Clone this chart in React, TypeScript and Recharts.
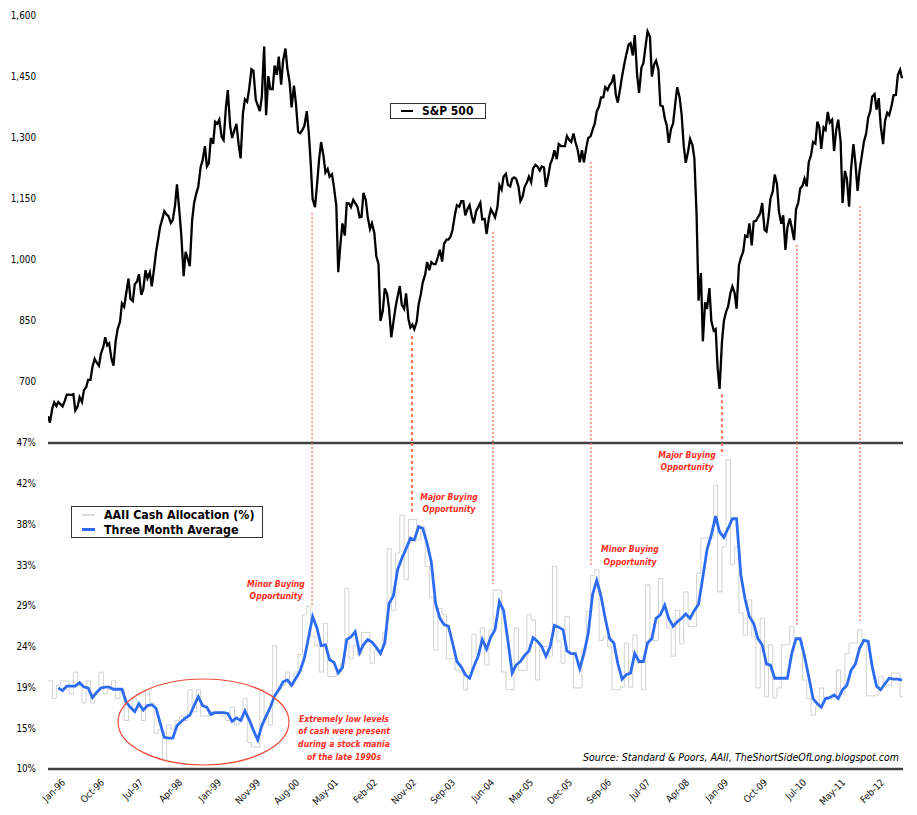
import React from "react";
import { ComposedChart, Line, XAxis, YAxis, ReferenceLine, Legend } from "recharts";

const FONT = "'DejaVu Sans Condensed', 'DejaVu Sans', sans-serif";

// S&P 500, two readings a month (1st and 15th), Jan-96 to Oct-12
const spx1996 = [616, 600, 636, 650, 641, 651, 645, 640, 654, 669, 669, 668, 670, 630, 640, 663, 651, 680, 687, 705, 705, 737, 757, 748];
const spx1997 = [740, 770, 786, 810, 790, 795, 757, 740, 801, 830, 848, 893, 885, 917, 954, 905, 899, 940, 947, 965, 914, 928, 975, 955];
const spx1998 = [970, 935, 980, 1020, 1049, 1080, 1101, 1120, 1112, 1108, 1091, 1098, 1134, 1186, 1121, 1062, 960, 1020, 1002, 985, 1098, 1140, 1164, 1180];
const spx1999 = [1229, 1245, 1280, 1230, 1238, 1300, 1286, 1340, 1335, 1345, 1302, 1295, 1373, 1418, 1329, 1300, 1320, 1335, 1283, 1250, 1362, 1395, 1389, 1420];
const spx2000 = [1469, 1465, 1394, 1380, 1366, 1400, 1525, 1356, 1452, 1420, 1420, 1478, 1455, 1500, 1431, 1490, 1520, 1470, 1436, 1375, 1429, 1385, 1315, 1312];
const spx2001 = [1320, 1330, 1366, 1315, 1240, 1150, 1130, 1183, 1249, 1290, 1256, 1215, 1224, 1205, 1211, 1180, 1134, 970, 1040, 1090, 1060, 1140, 1139, 1130];
const spx2002 = [1148, 1140, 1130, 1105, 1106, 1165, 1147, 1105, 1076, 1090, 1067, 1010, 990, 850, 875, 930, 916, 880, 810, 845, 885, 910, 936, 890];
const spx2003 = [880, 918, 855, 834, 841, 830, 848, 890, 916, 945, 964, 995, 975, 995, 990, 990, 1008, 1025, 996, 1040, 1050, 1050, 1058, 1075];
const spx2004 = [1112, 1135, 1131, 1145, 1145, 1110, 1126, 1135, 1107, 1090, 1120, 1130, 1141, 1100, 1101, 1064, 1104, 1125, 1115, 1105, 1130, 1184, 1173, 1205];
const spx2005 = [1212, 1185, 1181, 1200, 1203, 1200, 1181, 1145, 1156, 1180, 1191, 1205, 1191, 1225, 1234, 1230, 1220, 1230, 1228, 1180, 1207, 1235, 1249, 1270];
const spx2006 = [1248, 1285, 1280, 1280, 1280, 1305, 1295, 1290, 1311, 1290, 1270, 1240, 1270, 1240, 1277, 1300, 1304, 1320, 1336, 1365, 1378, 1400, 1400, 1425];
const spx2007 = [1418, 1430, 1438, 1456, 1406, 1387, 1421, 1452, 1482, 1505, 1530, 1533, 1503, 1553, 1455, 1411, 1473, 1484, 1527, 1562, 1549, 1451, 1481, 1490];
const spx2008 = [1468, 1380, 1378, 1349, 1330, 1288, 1323, 1335, 1386, 1425, 1400, 1360, 1280, 1239, 1267, 1298, 1283, 1250, 1110, 900, 968, 800, 896, 880];
const spx2009 = [931, 850, 826, 830, 735, 683, 798, 850, 873, 885, 919, 935, 919, 880, 987, 1005, 1021, 1060, 1057, 1090, 1036, 1095, 1096, 1105];
const spx2010 = [1115, 1140, 1074, 1070, 1104, 1150, 1169, 1210, 1187, 1120, 1089, 1110, 1025, 1080, 1102, 1080, 1049, 1125, 1141, 1176, 1183, 1200, 1181, 1240];
const spx2011 = [1258, 1290, 1286, 1340, 1327, 1273, 1326, 1320, 1364, 1338, 1345, 1268, 1321, 1345, 1292, 1140, 1219, 1200, 1131, 1224, 1285, 1240, 1170, 1220];
const spx2012 = [1258, 1290, 1312, 1350, 1366, 1402, 1408, 1370, 1398, 1330, 1285, 1342, 1362, 1356, 1379, 1405, 1406, 1455, 1468, 1447];
const spxYears = [spx1996, spx1997, spx1998, spx1999, spx2000, spx2001, spx2002, spx2003, spx2004, spx2005, spx2006, spx2007, spx2008, spx2009, spx2010, spx2011, spx2012];

// AAII cash allocation (%), monthly from Jan-96
const cashAlloc = [
  20, 18, 19.5, 20, 20, 18.5, 21, 19.5, 17.5, 20, 17.5, 18.5,
  21, 18.5, 19, 20, 18, 19, 15.5, 17, 18, 17, 15.5, 19,
  17.5, 14, 14.5, 11, 15, 14.5, 15.5, 16, 15.5, 19, 16.5, 19,
  16, 16, 16.5, 16.5, 16.5, 16, 15.5, 17, 15, 15.5, 18, 13,
  12.5, 12.5, 19, 16, 15, 24, 19, 19.5, 21, 19.5, 21, 23,
  27.5, 28.5, 25, 24, 21, 26.5, 20.5, 20.5, 21, 22, 30.5, 22.5,
  24, 23, 25.5, 25.5, 22, 23.5, 23.5, 25.5, 35, 28, 34.5, 38.8,
  31.5, 38.3, 38.3, 36, 37.5, 33, 29.5, 23.5, 28.2, 27.5, 22.5, 22.5,
  21.2, 21, 19, 20.5, 25.3, 23, 26, 21.8, 25.8, 30.3, 30.3, 21,
  19, 19, 26, 21.2, 21.2, 27.5, 26.9, 20.1, 23.9, 23.9, 22.8, 33,
  24.5, 22, 27.3, 23.1, 19.2, 19.2, 23.5, 27.9, 32, 32.6, 24.6, 25,
  23.9, 19, 19, 19.3, 24.3, 19.3, 25.2, 22, 19, 30.9, 24.6, 24.6,
  31.6, 28, 26, 22.8, 28, 24.2, 30.1, 26.2, 26.2, 32.2, 36.2, 36.2,
  36.2, 42.2, 30.1, 35.2, 45.1, 33.2, 35.2, 27.7, 25.2, 29.2, 25, 19.2,
  27.1, 18.2, 24.1, 18.1, 19.2, 24.1, 24.1, 26.2, 24.6, 24.6, 20.1, 18,
  16.1, 17.1, 19.2, 18, 18.2, 18.2, 21.2, 18.5, 23.1, 24.3, 24.3, 25.8,
  24.6, 18.3, 18.3, 18.4, 20.5, 19.5, 19.5, 20.9, 20.9, 18.2,
];

// Three month average (%), monthly from Mar-96
const cashAvg = [
  19.2, 18.9, 19.4, 19.4, 19.4, 19.8, 19.3, 19.2, 18.1, 18.7,
  19.2, 19.3, 19.3, 19.05, 19.05, 19.05, 17.6, 17.0, 16.5, 17.4, 16.7, 17.2,
  17.3, 16.9, 15.3, 13.6, 13.5, 13.5, 14.9, 15.4, 15.8, 16.1, 17.2, 18.2,
  17.2, 17.0, 16.2, 16.4, 16.4, 16.4, 16.3, 15.4, 15.8, 15.5, 16.6, 15.6,
  14.4, 13.3, 14.9, 16.0, 17.0, 18.3, 19.0, 19.9, 20.1, 19.5, 20.3, 21.1,
  22.6, 25.0, 27.3, 26.0, 24.0, 24.1, 22.4, 22.1, 20.9, 21.5, 24.7, 25.0,
  25.6, 23.2, 24.1, 24.7, 24.4, 23.8, 23.1, 24.3, 28.8, 29.6, 32.6, 33.9,
  35.0, 36.2, 36.0, 37.5, 37.3, 35.6, 33.5, 28.8, 27.1, 26.4, 26.2, 24.3,
  22.2, 21.6, 20.7, 20.3, 21.6, 22.8, 24.7, 23.6, 25.0, 25.8, 29.0, 28.0,
  24.6, 20.9, 21.8, 22.2, 22.9, 23.4, 24.9, 24.5, 23.9, 22.8, 23.9, 26.3,
  26.1, 25.8, 23.4, 23.1, 23.1, 21.4, 23.1, 25.4, 29.8, 31.4, 29.6, 27.1,
  24.8, 24.3, 22.0, 20.2, 20.7, 20.9, 23.1, 22.2, 22.2, 24.3, 24.8, 27.1,
  27.5, 28.6, 27.1, 26.2, 26.7, 27.1, 27.6, 27.1, 28.0, 28.7, 31.8, 34.9,
  36.6, 38.7, 36.9, 36.3, 37.3, 38.4, 38.4, 32.0, 29.2, 27.3, 26.5, 24.8,
  24.1, 21.9, 21.8, 20.3, 20.3, 20.3, 20.3, 23.1, 24.8, 24.8, 22.8, 20.5,
  18.0, 17.4, 17.0, 18.0, 18.1, 18.4, 18.0, 19.0, 19.5, 21.2, 21.9, 23.7,
  24.6, 24.5, 21.6, 19.4, 19.0, 19.7, 20.3, 20.2, 20.2, 20.1,
];

const xTickLabels = [
  "Jan-96", "Oct-96", "Jul-97", "Apr-98", "Jan-99", "Nov-99", "Aug-00", "May-01", "Feb-02", "Nov-02", "Sep-03",
  "Jun-04", "Mar-05", "Dec-05", "Sep-06", "Jul-07", "Apr-08", "Jan-09", "Oct-09", "Jul-10", "May-11", "Feb-12",
];
const spxTicks = [700, 850, 1000, 1150, 1300, 1450, 1600];
const cashTicks = [10, 14.625, 19.25, 23.875, 28.5, 33.125, 37.75, 42.375, 47];

// dotted markers: date, S&P level where the line starts, cash level where it stops
const buyMarks = [
  { date: [2001, 3, 11], spx: 1115, cash: 28.4, major: false },
  { date: [2003, 2, 26], spx: 813, cash: 39.2, major: true },
  { date: [2004, 9, 30], spx: 1069, cash: 31.0, major: false },
  { date: [2006, 9, 3], spx: 1241, cash: 33.0, major: false },
  { date: [2009, 4, 1], spx: 670, cash: 45.6, major: true },
  { date: [2010, 9, 21], spx: 1037, cash: 26.3, major: false },
  { date: [2011, 12, 18], spx: 1133, cash: 26.7, major: false },
];

const WEEK_MS = 7 * 24 * 3600 * 1000;
const weekOf = (y: number, m: number, d: number) => (Date.UTC(y, m, d) - Date.UTC(1996, 0, 1)) / WEEK_MS;

const spxData = spxYears.flatMap((vals, yi) =>
  vals.map((v, i) => ({ w: weekOf(1996 + yi, Math.floor(i / 2), i % 2 === 0 ? 1 : 15), v }))
);
const allocData = [...cashAlloc, cashAlloc[cashAlloc.length - 1]].map((v, k) => ({ w: weekOf(1996, k, 1), v }));
const avgData = cashAvg.map((v, k) => ({ w: weekOf(1996, k + 2, 15), v }));
const tickWeeks = xTickLabels.map((_, i) => i * 40);

const X_DOMAIN: [number, number] = [0, 877];
const RED = "#ff2b1c";
const DOT_RED = "#ff7663";

function DateTick(props: any) {
  const { x, y, payload } = props;
  return (
    <text transform={`translate(${x + 18},${y + 6}) rotate(-45)`} textAnchor="end" fontSize={9.6} fontFamily={FONT} fill="#111">
      {xTickLabels[Math.round(payload.value / 40)]}
    </text>
  );
}

function SpxLegend() {
  return (
    <div style={{ border: "1px solid #333", width: 94, height: 14, display: "flex", alignItems: "center", background: "#fff", fontFamily: FONT, fontSize: 12, fontWeight: 600 }}>
      <span style={{ display: "inline-block", width: 12, height: 2.5, background: "#000", marginLeft: 10, marginRight: 9 }} />
      <span>S&amp;P 500</span>
    </div>
  );
}

function CashLegend() {
  const row = (color: string, h: number, label: string) => (
    <div style={{ display: "flex", alignItems: "center", height: 15 }}>
      <span style={{ display: "inline-block", width: 13, height: h, background: color, marginLeft: 10, marginRight: 9 }} />
      <span>{label}</span>
    </div>
  );
  return (
    <div style={{ border: "1px solid #333", width: 190, height: 30, background: "#fff", fontFamily: FONT, fontSize: 12.3, fontWeight: 600 }}>
      {row("#dcdcdc", 2, "AAII Cash Allocation (%)")}
      {row("#2d6cf0", 3, "Three Month Average")}
    </div>
  );
}

export default function App() {
  return (
    <div style={{ position: "absolute", left: 0, top: 0, width: 917, height: 815, background: "#fff", overflow: "hidden" }}>
      <div style={{ position: "absolute", left: 0, top: 0 }}>
        <ComposedChart width={917} height={445} data={spxData} margin={{ top: 16, right: 14, bottom: 2, left: 0 }}>
          <XAxis dataKey="w" type="number" domain={X_DOMAIN} allowDataOverflow hide />
          <YAxis
            width={48}
            domain={[550, 1600]}
            ticks={spxTicks}
            axisLine={false}
            tickLine={false}
            tickMargin={6}
            tickFormatter={(v: number) => v.toLocaleString("en-US")}
            tick={{ fontSize: 9.8, fill: "#000", fontFamily: FONT }}
          />
          {buyMarks.map((b, i) => {
            const w = weekOf(b.date[0], b.date[1] - 1, b.date[2]);
            return (
              <ReferenceLine
                key={i}
                segment={[{ x: w, y: b.spx }, { x: w, y: 550 }]}
                stroke={DOT_RED}
                strokeWidth={b.major ? 2.2 : 1.3}
                strokeDasharray={b.major ? "3 3" : "2 2"}
              />
            );
          })}
          <Line dataKey="v" type="linear" stroke="#000" strokeWidth={2.3} dot={false} isAnimationActive={false} />
          <Legend
            layout="vertical"
            align="center"
            verticalAlign="middle"
            content={() => <SpxLegend />}
            wrapperStyle={{ left: 390, top: 103, width: 96 }}
          />
        </ComposedChart>
      </div>

      <div style={{ position: "absolute", left: 0, top: 430 }}>
        <ComposedChart width={917} height={385} margin={{ top: 13, right: 14, bottom: 6, left: 0 }}>
          <XAxis
            dataKey="w"
            type="number"
            domain={X_DOMAIN}
            allowDataOverflow
            ticks={tickWeeks}
            interval={0}
            height={40}
            tickLine={false}
            axisLine={{ stroke: "#404040", strokeWidth: 2.5 }}
            tick={<DateTick />}
          />
          <YAxis
            width={48}
            domain={[10, 47]}
            ticks={cashTicks}
            axisLine={false}
            tickLine={false}
            tickMargin={6}
            tickFormatter={(v: number) => `${Math.round(v)}%`}
            tick={{ fontSize: 9.8, fill: "#000", fontFamily: FONT }}
          />
          <ReferenceLine y={47} stroke="#404040" strokeWidth={2.5} />
          <Line data={allocData} dataKey="v" type="stepAfter" stroke="#d2d2d2" strokeWidth={1} dot={false} isAnimationActive={false} />
          <Line data={avgData} dataKey="v" type="linear" stroke="#2d6cf0" strokeWidth={2.8} dot={false} isAnimationActive={false} />
          {buyMarks.map((b, i) => {
            const w = weekOf(b.date[0], b.date[1] - 1, b.date[2]);
            return (
              <ReferenceLine
                key={i}
                segment={[{ x: w, y: 47 }, { x: w, y: b.cash }]}
                stroke={DOT_RED}
                strokeWidth={b.major ? 2.2 : 1.3}
                strokeDasharray={b.major ? "3 3" : "2 2"}
              />
            );
          })}
          <Legend
            layout="vertical"
            align="center"
            verticalAlign="middle"
            content={() => <CashLegend />}
            wrapperStyle={{ left: 71, top: 76, width: 192 }}
          />
        </ComposedChart>
      </div>

      <svg width={917} height={815} style={{ position: "absolute", left: 0, top: 0, pointerEvents: "none" }}>
        <ellipse cx={203.5} cy={722} rx={85.5} ry={43} fill="none" stroke="#ef4b3b" strokeWidth={1.2} />
        <g fontFamily={FONT} fontStyle="italic" fontWeight="bold" fontSize={8.6} fill={RED} textAnchor="middle">
          <text x={276} y={587}>Minor Buying</text>
          <text x={276} y={599}>Opportunity</text>
          <text x={449} y={500}>Major Buying</text>
          <text x={449} y={512}>Opportunity</text>
          <text x={630} y={552}>Minor Buying</text>
          <text x={630} y={565}>Opportunity</text>
          <text x={687} y={458}>Major Buying</text>
          <text x={687} y={470}>Opportunity</text>
          <text x={344} y={722}>Extremely low levels</text>
          <text x={344} y={734}>of cash were present</text>
          <text x={344} y={747}>during a stock mania</text>
          <text x={344} y={760}>of the late 1990s</text>
        </g>
        <text x={899} y={761} textAnchor="end" fontFamily={FONT} fontStyle="italic" fontSize={10.5} fill="#000">
          Source: Standard &amp; Poors, AAII, TheShortSideOfLong.blogspot.com
        </text>
      </svg>
    </div>
  );
}
